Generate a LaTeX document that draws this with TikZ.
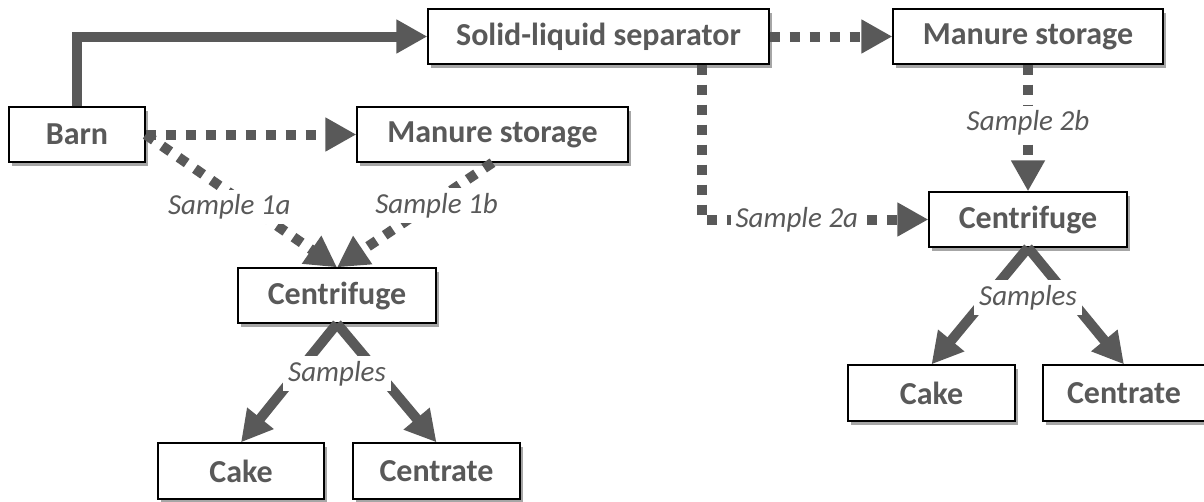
\documentclass[tikz,border=0pt]{standalone}
\usepackage{fontspec}
\setmainfont{Carlito}
\usetikzlibrary{arrows.meta,shadows,calc}
\definecolor{ink}{HTML}{595959}
\tikzset{
 box/.style={draw=black, line width=1.3pt, fill=white, minimum height=55pt, inner sep=0pt,
   font=\fontsize{32}{36}\selectfont\bfseries, text=ink,
   drop shadow={shadow xshift=2.5pt, shadow yshift=-3.5pt, opacity=0.35, fill=black}},
 lbl/.style={fill=white, inner sep=5pt, font=\fontsize{29}{33}\selectfont\itshape, text=ink},
 flow/.style={draw=ink, line width=10pt, -{Triangle[length=31pt,width=32pt]}},
 dotflow/.style={flow, dash pattern=on 10pt off 10pt},
}
\begin{document}
\begin{tikzpicture}[x=1pt,y=-1pt]
\useasboundingbox (0,0) rectangle (1204,501);
% boxes
\node[box, minimum width=136pt] (barn) at (77,134.5) {Barn};
\node[box, minimum width=341pt] (sep) at (598.5,36.5) {Solid-liquid separator};
\node[box, minimum width=271pt] (manL) at (492.5,134.5) {Manure storage};
\node[box, minimum width=198pt] (cenL) at (337,295.5) {Centrifuge};
\node[box, minimum width=166pt, minimum height=56pt] (cakeL) at (241,471) {Cake};
\node[box, minimum width=167pt, minimum height=56pt] (crtL) at (436.5,471) {Centrate};
\node[box, minimum width=270pt] (manR) at (1028,36.5) {Manure storage};
\node[box, minimum width=198pt] (cenR) at (1028,219.5) {Centrifuge};
\node[box, minimum width=167pt, minimum height=56pt] (cakeR) at (931.5,393) {Cake};
\node[box, minimum width=162pt, minimum height=56pt] (crtR) at (1124,393) {Centrate};
% connectors left
\draw[flow] (barn.north) |- (sep.west);
\draw[dotflow] (barn.east) -- (manL.west);
\draw[dotflow] (barn.east) -- node[lbl, pos=0.5, xshift=-12pt, yshift=-6pt] {Sample 1a} (cenL.north);
\draw[dotflow] (manL.south) -- node[lbl, pos=0.36, yshift=-5pt] {Sample 1b} (cenL.north);
\draw[flow] (cenL.south) -- (cakeL.north);
\draw[flow] (cenL.south) -- (crtL.north);
\node[lbl] (sampL) at ($(cenL.south)!0.42!(cenL.south |- cakeL.north)$) {Samples};
% connectors right
\draw[dotflow] (sep.east) -- (manR.west);
\coordinate (s2a) at ($(sep.south east)+(-68,0)$);
\draw[dotflow] (s2a) |- node[lbl, pos=0.71] {Sample 2a} (cenR.west);
\draw[dotflow] (manR.south) -- node[lbl, pos=0.46] {Sample 2b} (cenR.north);
\draw[flow] (cenR.south) -- (cakeR.north);
\draw[flow] (cenR.south) -- (crtR.north);
\node[lbl] (sampR) at ($(cenR.south)!0.43!(cenR.south |- cakeR.north)$) {Samples};
\end{tikzpicture}
\end{document}
